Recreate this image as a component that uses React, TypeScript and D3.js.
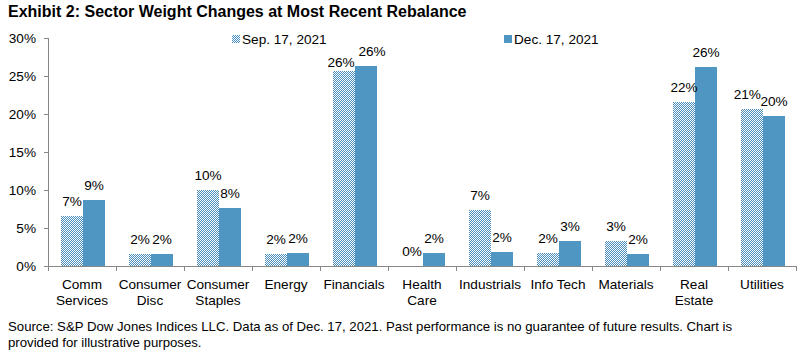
import React from "react";
import * as d3 from "d3";

const categories = [
  ["Comm", "Services"],
  ["Consumer", "Disc"],
  ["Consumer", "Staples"],
  ["Energy"],
  ["Financials"],
  ["Health", "Care"],
  ["Industrials"],
  ["Info Tech"],
  ["Materials"],
  ["Real", "Estate"],
  ["Utilities"],
];
const sepValues = [6.6, 1.6, 10.0, 1.6, 25.6, 0.0, 7.4, 1.7, 3.3, 21.6, 20.7];
const decValues = [8.7, 1.6, 7.6, 1.7, 26.3, 1.7, 1.8, 3.3, 1.6, 26.2, 19.7];
const sepLabels = ["7%", "2%", "10%", "2%", "26%", "0%", "7%", "2%", "3%", "22%", "21%"];
const decLabels = ["9%", "2%", "8%", "2%", "26%", "2%", "2%", "3%", "2%", "26%", "20%"];
const yTicks = [0, 5, 10, 15, 20, 25, 30];
const seriesNames = ["Sep. 17, 2021", "Dec. 17, 2021"];

const W = 805;
const H = 358;
const left = 48;
const right = 796;
const top = 38;
const bottom = 266;
const BLUE = "#4F97C2";
const CHK = "#4A8EBD";
const AXIS = "#878787";
const FONT = "Arial, 'Liberation Sans', sans-serif";
const FS = 13.6;

// checkerboard fill drawn as 1px dashed rows (pixel exact)
function checkerPath(x0: number, y0: number, w: number, h: number): string {
  let d = "";
  for (let r = y0; r < y0 + h; r++) {
    const off = r % 2;
    d += `M${x0 + off},${r + 0.5}H${x0 + w}`;
  }
  return d;
}

export default function App() {
  const x = d3
    .scaleBand<number>()
    .domain(d3.range(categories.length))
    .range([left, right])
    .paddingInner(0)
    .paddingOuter(0);
  const y = d3.scaleLinear().domain([0, 30]).range([bottom, top]);
  const bw = x.bandwidth();
  const pad = Math.round(bw * 0.17);
  const barW = Math.round((bw - 2 * pad) / 2);
  const charW = FS * 0.556;
  const capH = FS * 0.72;

  return (
    <svg width={W} height={H} style={{ position: "absolute", left: 0, top: 0, background: "#fff" }}>
      <text x={8} y={17} fontFamily={FONT} fontSize={16} fontWeight="bold" fill="#000">
        Exhibit 2: Sector Weight Changes at Most Recent Rebalance
      </text>

      {/* legend */}
      <path d={checkerPath(232, 35, 8, 8)} stroke={CHK} strokeWidth={1} strokeDasharray="1 1" fill="none" shapeRendering="crispEdges" />
      <text x={242} y={44} fontFamily={FONT} fontSize={FS} fill="#000">{seriesNames[0]}</text>
      <rect x={504} y={35} width={8} height={8} fill={BLUE} shapeRendering="crispEdges" />
      <text x={514} y={44} fontFamily={FONT} fontSize={FS} fill="#000">{seriesNames[1]}</text>

      {/* y axis */}
      <line x1={left + 0.5} x2={left + 0.5} y1={top} y2={bottom} stroke={AXIS} />
      {yTicks.map((t) => (
        <g key={t}>
          <line x1={left - 4} x2={left} y1={Math.round(y(t)) + 0.5} y2={Math.round(y(t)) + 0.5} stroke={AXIS} />
          <text x={36} y={y(t) + 5} textAnchor="end" fontFamily={FONT} fontSize={FS} fill="#000">
            {t}%
          </text>
        </g>
      ))}

      {/* bars */}
      {categories.map((c, i) => {
        const x0 = Math.round((x(i) as number) + pad) + 1;
        const ys = Math.round(y(sepValues[i]));
        const yd = Math.round(y(decValues[i]));
        let sx = x0 + barW / 2;
        let dx = x0 + barW * 1.5;
        let sy = ys - 10;
        const dy = yd - 10;
        const sw = sepLabels[i].length * charW;
        const dw = decLabels[i].length * charW;
        const hOverlap = sx + sw / 2 > dx - dw / 2 - 2;
        const vOverlap = Math.abs(sy - dy) < capH + 2;
        if (hOverlap && vOverlap) {
          if (ys > yd) {
            sy = ys - 4;
            sx -= 3;
            dx += 6;
          } else {
            sx -= sx + sw / 2 - (dx - dw / 2) + 4;
          }
        }
        return (
          <g key={i}>
            {bottom - ys > 0 && (
              <path d={checkerPath(x0, ys, barW, bottom - ys)} stroke={CHK} strokeWidth={1} strokeDasharray="1 1" fill="none" shapeRendering="crispEdges" />
            )}
            <rect x={x0 + barW} y={yd} width={barW} height={bottom - yd} fill={BLUE} shapeRendering="crispEdges" />
            <text x={sx} y={sy} textAnchor="middle" fontFamily={FONT} fontSize={FS} fill="#000">
              {sepLabels[i]}
            </text>
            <text x={dx} y={dy} textAnchor="middle" fontFamily={FONT} fontSize={FS} fill="#000">
              {decLabels[i]}
            </text>
            {c.map((line, j) => (
              <text key={j} x={(x(i) as number) + bw / 2} y={289 + j * 16} textAnchor="middle" fontFamily={FONT} fontSize={FS} fill="#000">
                {line}
              </text>
            ))}
          </g>
        );
      })}

      {/* x axis */}
      <line x1={left} x2={right} y1={bottom + 0.5} y2={bottom + 0.5} stroke={AXIS} />
      {d3.range(categories.length + 1).map((i) => {
        const xx = Math.round(i < categories.length ? (x(i) as number) : right) + 0.5;
        return <line key={i} x1={xx} x2={xx} y1={bottom} y2={bottom + 5} stroke={AXIS} />;
      })}

      <text x={8} y={331} fontFamily={FONT} fontSize={13.2} fill="#000">
        Source: S&amp;P Dow Jones Indices LLC. Data as of Dec. 17, 2021. Past performance is no guarantee of future results. Chart is
      </text>
      <text x={8} y={347} fontFamily={FONT} fontSize={13.2} fill="#000">
        provided for illustrative purposes.
      </text>
    </svg>
  );
}
